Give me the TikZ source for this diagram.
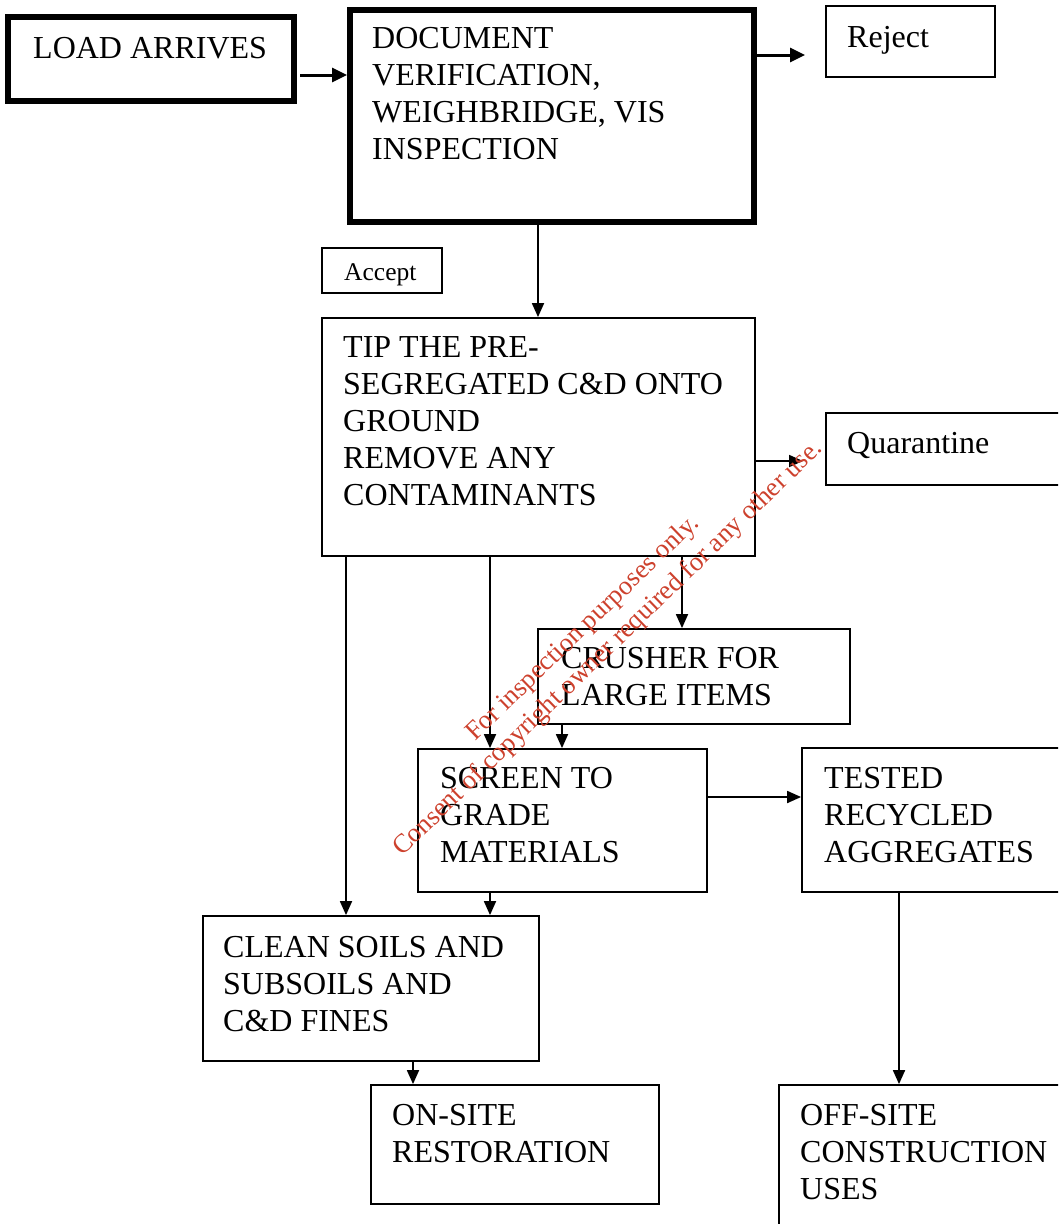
\documentclass[tikz,border=0pt]{standalone}
\usepackage{fontspec}
\setmainfont{Liberation Serif}
\usetikzlibrary{arrows.meta}
\definecolor{wmred}{RGB}{205,65,45}
\tikzset{
  thickbox/.style={draw, line width=6pt, rectangle, inner sep=0pt},
  thinbox/.style={draw, line width=1.8pt, rectangle, inner sep=0pt},
  lbl/.style={anchor=base west, align=left, inner sep=0pt, font=\fontsize{32}{37}\selectfont},
  arr/.style={line width=1.8pt, -{Triangle[length=14pt,width=12pt]}},
  tharr/.style={line width=3pt, -{Triangle[length=15pt,width=14pt]}},
  wm/.style={anchor=base west, inner sep=0pt, text=wmred, rotate=44, font=\fontsize{26.6}{30}\selectfont}
}
\begin{document}
\begin{tikzpicture}[x=1pt,y=-1pt]
\useasboundingbox (0,0) rectangle (1058,1224);
\clip (0,0) rectangle (1058,1224);
% boxes
\node[thickbox, minimum width=286pt, minimum height=84pt] (load) at (151,59) {};
\node[thickbox, minimum width=404pt, minimum height=212pt] (doc) at (552,116) {};
\node[thinbox, minimum width=169pt, minimum height=71pt] (reject) at (910.5,41.5) {};
\node[thinbox, minimum width=120pt, minimum height=45pt] (accept) at (382,270.5) {};
\node[thinbox, minimum width=433pt, minimum height=238pt] (tip) at (538.5,437) {};
\node[thinbox, minimum width=254pt, minimum height=72pt] (quar) at (953,449) {};
\node[thinbox, minimum width=312pt, minimum height=95pt] (crush) at (694,676.5) {};
\node[thinbox, minimum width=289pt, minimum height=143pt] (screen) at (562.5,820.5) {};
\node[thinbox, minimum width=278pt, minimum height=144pt] (tested) at (941,820) {};
\node[thinbox, minimum width=336pt, minimum height=145pt] (clean) at (371,988.5) {};
\node[thinbox, minimum width=288pt, minimum height=119pt] (onsite) at (515,1144.5) {};
\node[thinbox, minimum width=301pt, minimum height=155pt] (offsite) at (929.5,1162.5) {};
% texts (anchored at the baseline of the last line)
\node[lbl] (tload) at (33,58) {LOAD ARRIVES};
\node[lbl] (tdoc) at (372,159) {DOCUMENT\\VERIFICATION,\\WEIGHBRIDGE, VIS\\INSPECTION};
\node[lbl] (treject) at (847,47) {Reject};
\node[lbl, font=\fontsize{25.5}{30}\selectfont] (taccept) at (344,280) {Accept};
\node[lbl] (ttip) at (343,505) {TIP THE PRE-\\SEGREGATED C\&D ONTO\\GROUND\\REMOVE ANY\\CONTAMINANTS};
\node[lbl] (tquar) at (847,453) {Quarantine};
\node[lbl] (tcrush) at (561,705) {CRUSHER FOR\\LARGE ITEMS};
\node[lbl] (tscreen) at (440,862) {SCREEN TO\\GRADE\\MATERIALS};
\node[lbl] (ttested) at (824,862) {TESTED\\RECYCLED\\AGGREGATES};
\node[lbl] (tclean) at (223,1031) {CLEAN SOILS AND\\SUBSOILS AND\\C\&D FINES};
\node[lbl] (tonsite) at (392,1162) {ON-SITE\\RESTORATION};
\node[lbl] (toffsite) at (800,1199) {OFF-SITE\\CONSTRUCTION\\USES};
% reference coordinates
\coordinate (yA) at (0,75);
\coordinate (yR) at (0,55);
\coordinate (rejend) at (805,55);
\coordinate (quarend) at (803,461);
\coordinate (yQ) at (0,461);
\coordinate (yS) at (0,797);
\coordinate (x538) at (538,0);
\coordinate (x346) at (346,0);
\coordinate (x490) at (490,0);
\coordinate (x682) at (682,0);
\coordinate (x562) at (562,0);
\coordinate (x413) at (413,0);
\coordinate (x899) at (899,0);
% connectors
\draw[tharr] ([xshift=3pt]load.east |- yA) -- (doc.west |- yA);
\draw[tharr] (doc.east |- yR) -- (rejend);
\draw[arr] (doc.south -| x538) -- (tip.north -| x538);
\draw[arr] (tip.east |- yQ) -- (quarend);
\draw[arr] (tip.south -| x346) -- (clean.north -| x346);
\draw[arr] (tip.south -| x490) -- (screen.north -| x490);
\draw[arr] (tip.south -| x682) -- (crush.north -| x682);
\draw[arr] (crush.south -| x562) -- (screen.north -| x562);
\draw[arr] (screen.east |- yS) -- (tested.west |- yS);
\draw[arr] (screen.south -| x490) -- (clean.north -| x490);
\draw[arr] (clean.south -| x413) -- (onsite.north -| x413);
\draw[arr] (tested.south -| x899) -- (offsite.north -| x899);
% watermark
\node[wm] (wm1) at (475,742) {For inspection purposes only.};
\node[wm] (wm2) at (402,857) {Consent of copyright owner required for any other use.};
\end{tikzpicture}
\end{document}
